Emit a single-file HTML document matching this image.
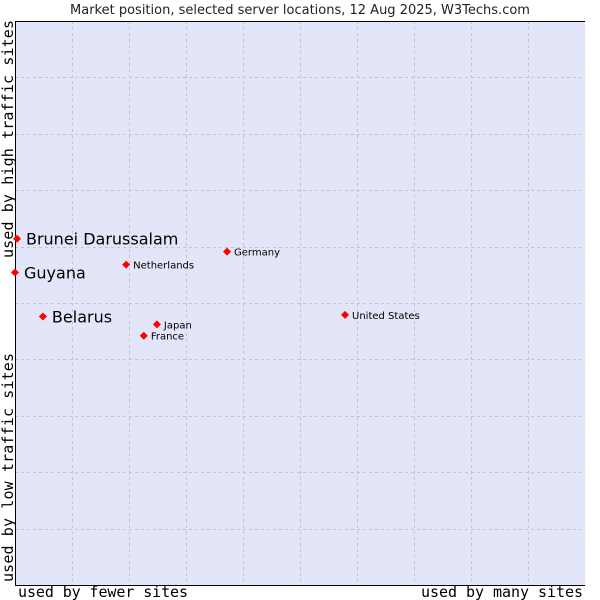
<!DOCTYPE html>
<html><head><meta charset="utf-8"><style>
body{margin:0;background:#fff;width:600px;height:600px;overflow:hidden}
svg{display:block}
</style></head><body>
<svg id="chart" width="600" height="600">
<text x="300" y="14" text-anchor="middle" font-family="DejaVu Sans, sans-serif" font-size="13" fill="#222">Market position, selected server locations, 12 Aug 2025, W3Techs.com</text>
<rect x="15" y="21" width="570" height="564" fill="#e3e5f8"/>
<g id="grid"></g>
<line x1="15.5" y1="21" x2="15.5" y2="585" stroke="#000"/>
<line x1="15" y1="585.5" x2="585" y2="585.5" stroke="#000"/>
<line x1="15" y1="21.5" x2="585" y2="21.5" stroke="#000"/>
<text x="18" y="597" textLength="170" font-family="DejaVu Sans Mono, Liberation Mono, monospace" font-size="15" fill="#000">used by fewer sites</text>
<text x="421" y="597" textLength="162" font-family="DejaVu Sans Mono, Liberation Mono, monospace" font-size="15" fill="#000">used by many sites</text>
<text transform="translate(13,582) rotate(-90)" textLength="229" font-family="DejaVu Sans Mono, Liberation Mono, monospace" font-size="15" fill="#000">used by low traffic sites</text>
<text transform="translate(13,258) rotate(-90)" textLength="238" font-family="DejaVu Sans Mono, Liberation Mono, monospace" font-size="15" fill="#000">used by high traffic sites</text>
<g id="points"></g>
</svg>
<script>
const names = ["Brunei Darussalam","Guyana","Belarus","Netherlands","Germany","Japan","France","United States"];
const xValues = [0.35,0,4.9,19.5,37.2,24.9,22.6,57.9];
const yValues = [61.4,55.4,47.6,56.8,59.1,46.2,44.2,47.9];
const bigLabel = [true,true,true,false,false,false,false,false];
const NS="http://www.w3.org/2000/svg";
const L=15,T=21,W=570,H=564;
const sx=v=>L+v/100*W, sy=v=>T+H-v/100*H;
const grid=document.getElementById('grid');
for(let i=1;i<10;i++){
  const gx=document.createElementNS(NS,'line');
  
  
  const x=Math.round(sx(i*10))+0.5;
  gx.setAttribute('x1',x);gx.setAttribute('x2',x);gx.setAttribute('y1',T);gx.setAttribute('y2',T+H);
  gx.setAttribute('stroke','#c4c4cc');gx.setAttribute('stroke-dasharray','3,3');
  grid.appendChild(gx);
  const gy=document.createElementNS(NS,'line');
  
  
  const y=Math.round(sy(i*10))+0.5;
  gy.setAttribute('y1',y);gy.setAttribute('y2',y);gy.setAttribute('x1',L);gy.setAttribute('x2',L+W);
  gy.setAttribute('stroke','#c4c4cc');gy.setAttribute('stroke-dasharray','3,3');
  grid.appendChild(gy);
}
const pts=document.getElementById('points');
names.forEach((n,i)=>{
  const x=sx(xValues[i]),y=sy(yValues[i]);
  const d=document.createElementNS(NS,'path');
  
  
  d.setAttribute('d',`M${x},${y-4}L${x+4},${y}L${x},${y+4}L${x-4},${y}Z`);
  d.setAttribute('fill','#f00');
  pts.appendChild(d);
  const t=document.createElementNS(NS,'text');
  
  
  const big=bigLabel[i];
  t.setAttribute('x',x+(big?9:7));
  t.setAttribute('y',y+(big?6:4));
  t.setAttribute('font-family','DejaVu Sans, sans-serif');
  t.setAttribute('font-size',big?'16':'10');
  t.setAttribute('fill','#000');
  t.textContent=n;
  pts.appendChild(t);
});
</script>
</body></html>
